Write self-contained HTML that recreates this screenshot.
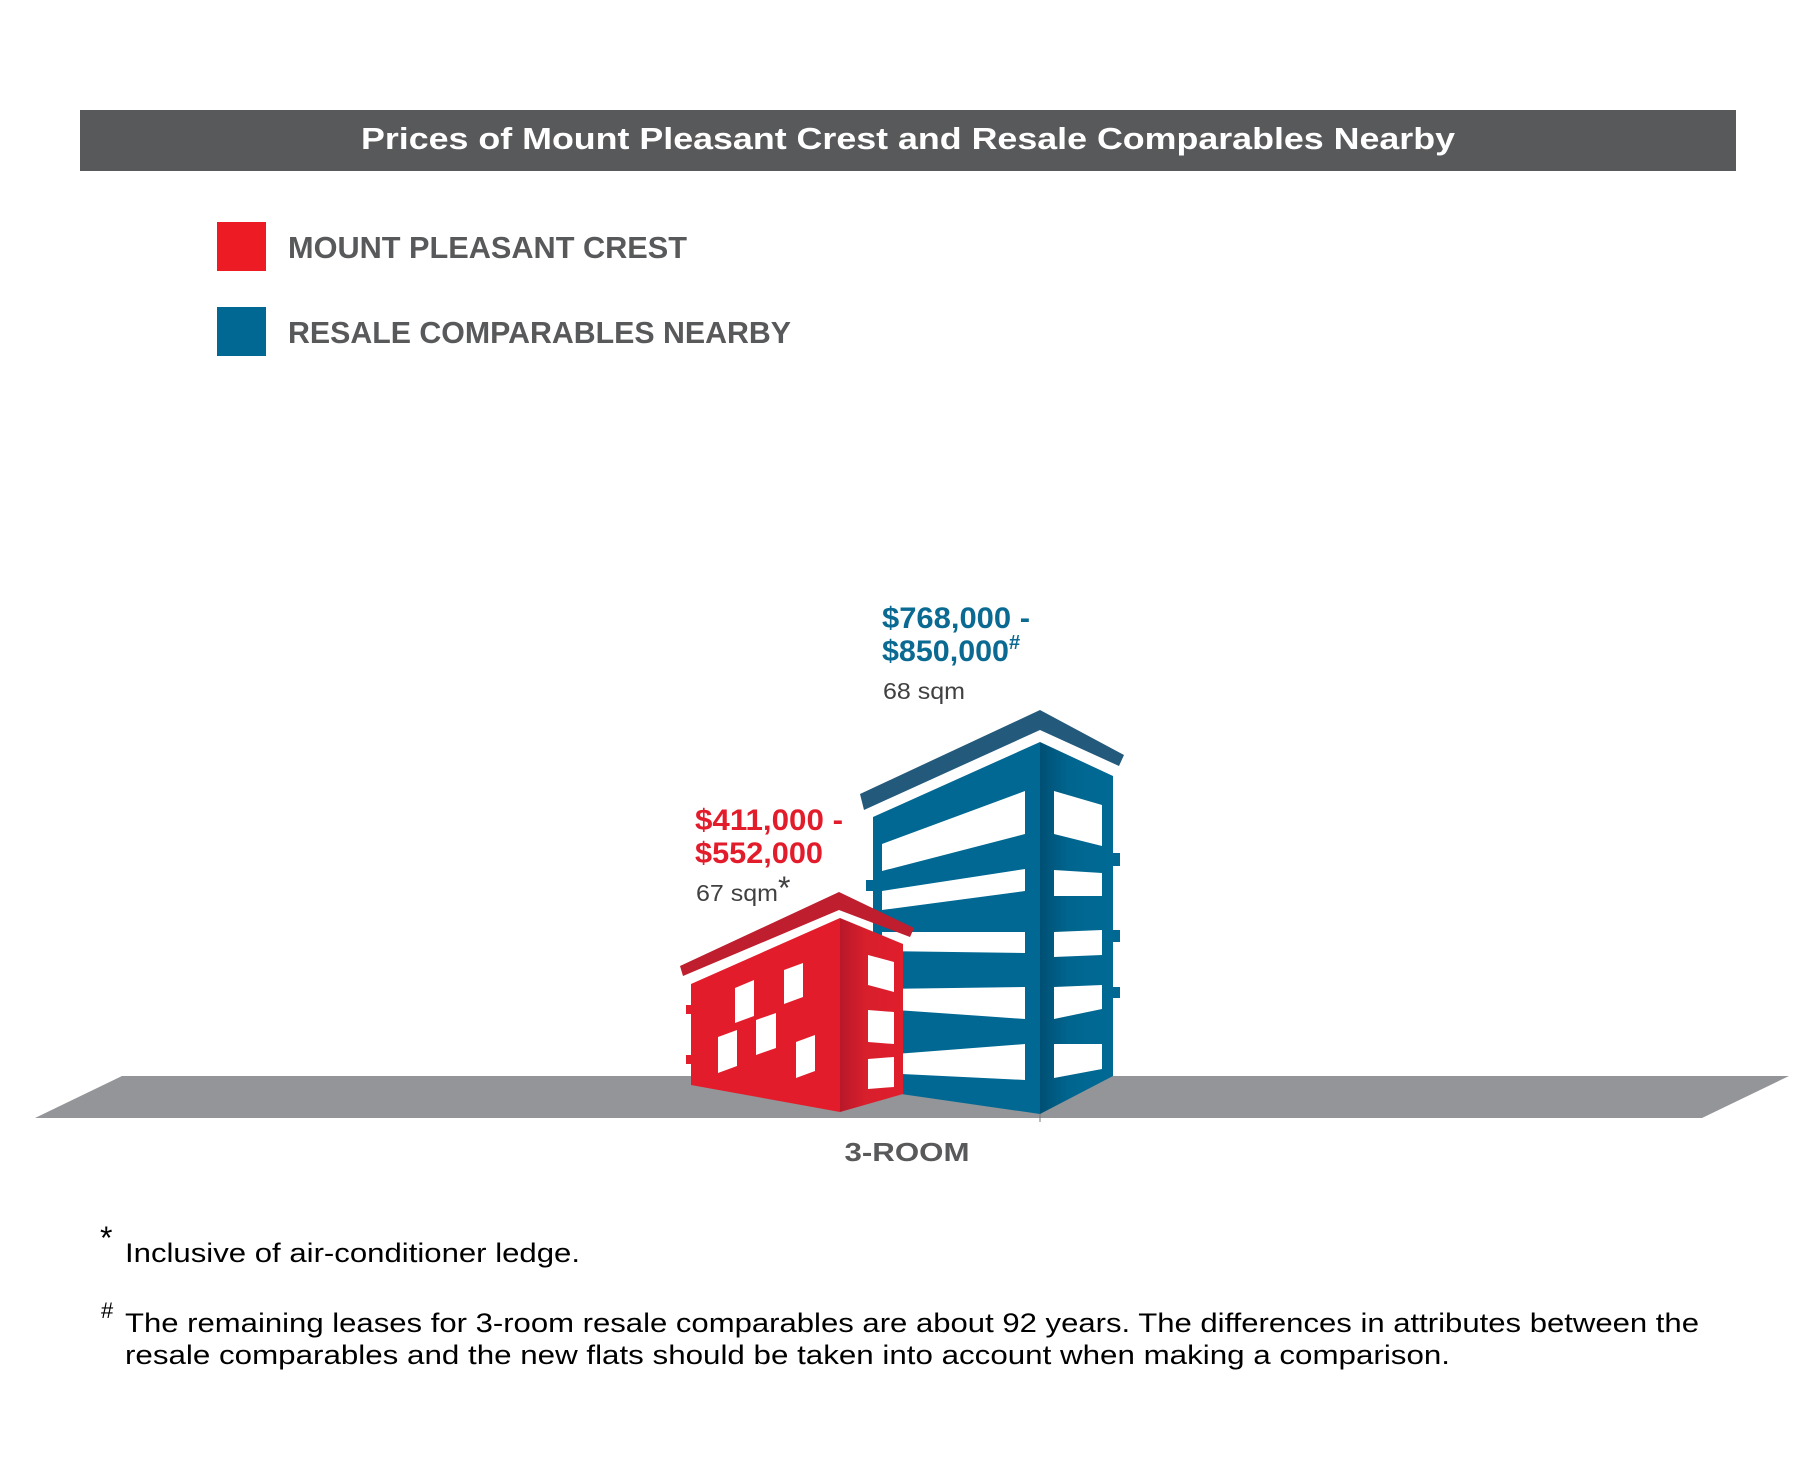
<!DOCTYPE html>
<html><head><meta charset="utf-8"><style>
html,body{margin:0;padding:0;background:#fff;}
svg{display:block;}
text{font-family:"Liberation Sans",Arial,sans-serif;}
</style></head><body>
<svg width="1806" height="1461" viewBox="0 0 1806 1461" xmlns="http://www.w3.org/2000/svg">
<defs>
<linearGradient id="bside" x1="0" x2="1" y1="0" y2="0"><stop offset="0" stop-color="#004f73"/><stop offset="0.4" stop-color="#006690"/><stop offset="1" stop-color="#006a94"/></linearGradient>
<linearGradient id="rside" x1="0" x2="1" y1="0" y2="0"><stop offset="0" stop-color="#b8182a"/><stop offset="0.4" stop-color="#d81f2c"/><stop offset="1" stop-color="#e01e2c"/></linearGradient>
</defs>
<rect x="80" y="110" width="1656" height="61" fill="#58595b"/>
<text x="908" y="149" text-anchor="middle" font-size="31" font-weight="bold" fill="#fff" textLength="1094" lengthAdjust="spacingAndGlyphs">Prices of Mount Pleasant Crest and Resale Comparables Nearby</text>
<rect x="217" y="222" width="49" height="49" fill="#ed1c24"/>
<text x="288" y="258" font-size="31" font-weight="bold" fill="#58595b" textLength="399" lengthAdjust="spacingAndGlyphs">MOUNT PLEASANT CREST</text>
<rect x="217" y="307" width="49" height="49" fill="#006893"/>
<text x="288" y="343" font-size="31" font-weight="bold" fill="#58595b" textLength="503" lengthAdjust="spacingAndGlyphs">RESALE COMPARABLES NEARBY</text>
<polygon points="122,1076 1789,1076 1702,1118 35,1118" fill="#939598"/>
<polygon points="860,794 1040,710 1124,755 1119,766 1040,730 864,810" fill="#235a7c"/>
<polygon points="873,817 1040,742 1040,1114 873,1090" fill="#006893"/>
<polygon points="1040,742 1113,776 1113,1076 1040,1114" fill="url(#bside)"/>
<g fill="#fff">
<polygon points="882,844 1025,791 1025,834 882,871"/>
<polygon points="882,891 1025,869 1025,891 882,910"/>
<polygon points="882,932 1025,932 1025,953 882,951"/>
<polygon points="882,989 1025,987 1025,1019 882,1009"/>
<polygon points="882,1055 1025,1044 1025,1080 882,1073"/>
<polygon points="1054,791 1102,805 1102,846 1054,834"/>
<polygon points="1054,870 1102,873 1102,896 1054,896"/>
<polygon points="1054,932 1102,930 1102,955 1054,957"/>
<polygon points="1054,987 1102,985 1102,1009 1054,1019"/>
<polygon points="1054,1044 1102,1044 1102,1069 1054,1078"/>
</g>
<g fill="#006893">
<rect x="1113" y="853" width="7" height="13"/><rect x="1113" y="930" width="7" height="12"/><rect x="1113" y="987" width="7" height="11"/><rect x="866" y="880" width="7" height="11"/>
</g>
<line x1="1040" y1="1114" x2="1040" y2="1122" stroke="#777" stroke-width="1"/>
<polygon points="680,966 839,892 914,928 910,937 839,910 683,976" fill="#be1e2d"/>
<polygon points="691,984 840,918 840,1112 691,1085" fill="#e31c2b"/>
<polygon points="840,918 903,944 903,1094 840,1112" fill="url(#rside)"/>
<g fill="#fff">
<polygon points="735,988 754,980 754,1016 735,1023"/>
<polygon points="784,970 803,963 803,997 784,1004"/>
<polygon points="718,1037 737,1030 737,1066 718,1073"/>
<polygon points="756,1020 776,1013 776,1048 756,1055"/>
<polygon points="796,1042 815,1035 815,1071 796,1078"/>
<polygon points="868,955 894,962 894,992 868,985"/>
<polygon points="868,1010 894,1012 894,1044 868,1042"/>
<polygon points="868,1059 894,1057 894,1087 868,1089"/>
</g>
<g fill="#e31c2b"><rect x="686" y="1005" width="5" height="9"/><rect x="686" y="1055" width="5" height="9"/></g>
<text x="882" y="628" font-size="30" font-weight="bold" fill="#0b6a92" textLength="148" lengthAdjust="spacingAndGlyphs">$768,000 -</text>
<text x="882" y="661" font-size="30" font-weight="bold" fill="#0b6a92"><tspan textLength="127" lengthAdjust="spacingAndGlyphs">$850,000</tspan><tspan font-size="20" dy="-12">#</tspan></text>
<text x="883" y="699" font-size="23" fill="#414042" textLength="82" lengthAdjust="spacingAndGlyphs">68 sqm</text>
<text x="695" y="830" font-size="30" font-weight="bold" fill="#e31c2b" textLength="148" lengthAdjust="spacingAndGlyphs">$411,000 -</text>
<text x="695" y="863" font-size="30" font-weight="bold" fill="#e31c2b" textLength="128" lengthAdjust="spacingAndGlyphs">$552,000</text>
<text x="696" y="901" font-size="23" fill="#414042"><tspan textLength="82" lengthAdjust="spacingAndGlyphs">67 sqm</tspan><tspan font-size="32" dy="-2">*</tspan></text>
<text x="907" y="1161" text-anchor="middle" font-size="26" font-weight="bold" fill="#58595b" textLength="125" lengthAdjust="spacingAndGlyphs">3-ROOM</text>
<text x="100" y="1249" font-size="32" fill="#000">*</text>
<text x="125" y="1262" font-size="27" fill="#000" textLength="455" lengthAdjust="spacingAndGlyphs">Inclusive of air-conditioner ledge.</text>
<text x="101" y="1318" font-size="22" fill="#000">#</text>
<text x="125" y="1332" font-size="27" fill="#000" textLength="1574" lengthAdjust="spacingAndGlyphs">The remaining leases for 3-room resale comparables are about 92 years. The differences in attributes between the</text>
<text x="125" y="1364" font-size="27" fill="#000" textLength="1325" lengthAdjust="spacingAndGlyphs">resale comparables and the new flats should be taken into account when making a comparison.</text>
</svg>
</body></html>
